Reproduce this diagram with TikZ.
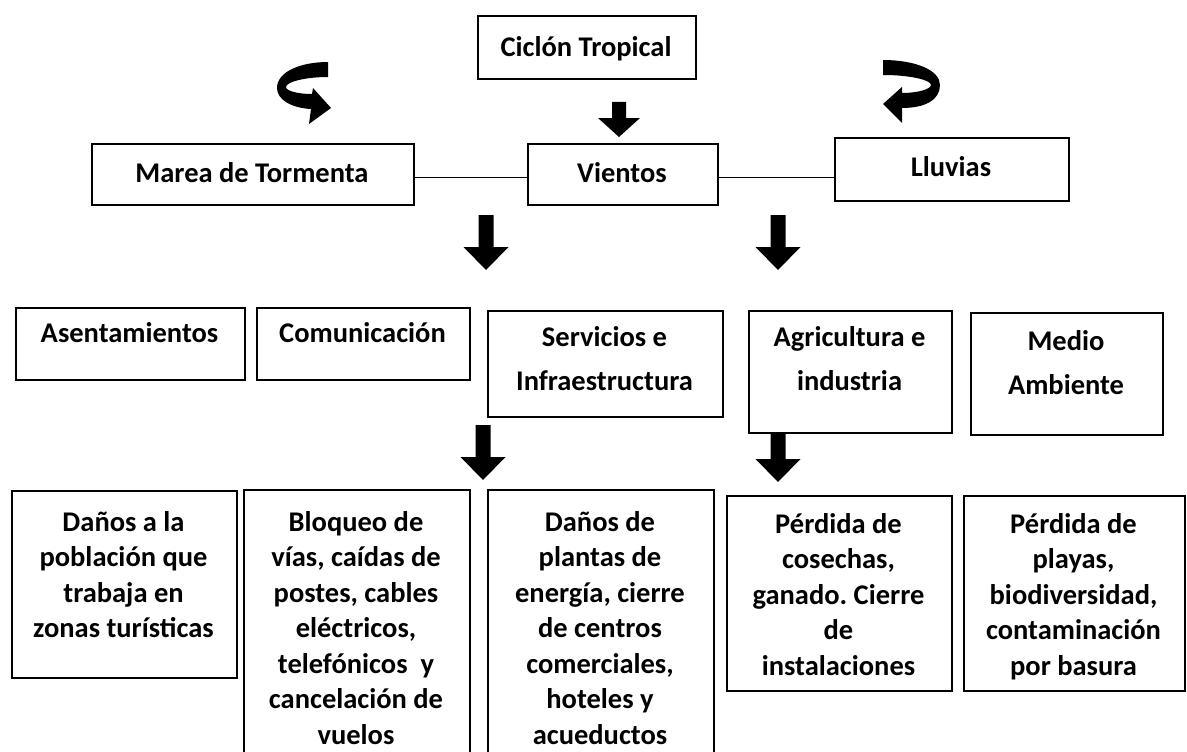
\documentclass[tikz,border=0pt]{standalone}
\usepackage{fontspec}
\setmainfont{Carlito}
\frenchspacing
\tikzset{
  box/.style={draw=black, line width=1.6pt, fill=white, inner sep=0pt, anchor=north west},
  txt/.style={font=\fontsize{28.5}{35.5}\selectfont\bfseries, align=center, inner sep=0pt, anchor=north},
  txtw/.style={font=\fontsize{28.5}{44}\selectfont\bfseries, align=center, inner sep=0pt, anchor=north},
  conn/.style={line width=1.3pt},
  blk/.style={fill=black}
}
\newcommand\blockarr[6]{% cx, top, headstart, tip, shaft half, head half
  \fill[blk] ({#1-#5},#2) -- ({#1+#5},#2) -- ({#1+#5},#3) -- ({#1+#6},#3) -- (#1,#4)
    -- ({#1-#6},#3) -- ({#1-#5},#3) -- cycle;}
\begin{document}
\begin{tikzpicture}[x=1pt,y=-1pt]
\useasboundingbox (0,0) rectangle (1187,752);
\clip (0,0) rectangle (1187,752);
\fill[white] (0,0) rectangle (1187,752);

% top row
\node[box, minimum width=218pt, minimum height=63pt] (ciclon) at (477,15) {};
\node[txt] (tciclon) at (586,31) {\strut Ciclón Tropical};

\node[box, minimum width=322pt, minimum height=61pt] (marea) at (91,143) {};
\node[txt] (tmarea) at (252,157) {\strut Marea de Tormenta};
\node[box, minimum width=190pt, minimum height=61pt] (vientos) at (527,143) {};
\node[txt] (tvientos) at (622,157) {\strut Vientos};
\node[box, minimum width=234pt, minimum height=63pt] (lluvias) at (834,137) {};
\node[txt] (tlluvias) at (951,151) {\strut Lluvias};

\coordinate (ly) at (0,177.5);
\draw[conn] (marea.east |- ly) -- (vientos.west |- ly);
\draw[conn] (vientos.east |- ly) -- (lluvias.west |- ly);

% curved arrows
\fill[blk] (328,62) .. controls (300,62) and (277,72) .. (277,88)
  .. controls (277,100) and (292,108) .. (311,109) -- (309,124) -- (331,108) -- (313,88) -- (312,94)
  .. controls (298,94) and (286,91) .. (286,87)
  .. controls (286,82) and (305,77) .. (328,77) -- cycle;
\fill[blk] (883,60) .. controls (915,60) and (940,70) .. (940,85)
  .. controls (940,100) and (925,108) .. (902,108) -- (902,123) -- (883,104) -- (902,87) -- (902,93)
  .. controls (918,93) and (931,89) .. (931,85)
  .. controls (931,80) and (910,75) .. (883,75) -- cycle;

% block arrows
\blockarr{619}{102}{118}{137}{7}{21}
\blockarr{486}{215}{247}{270}{7.5}{22.5}
\blockarr{778}{215}{247}{270}{7.5}{22.5}
\blockarr{483}{425}{457}{480}{7.5}{22.5}
\blockarr{778}{427}{459}{482}{7.5}{22.5}

% middle row
\node[box, minimum width=229pt, minimum height=72pt] (asent) at (15,307) {};
\node[txt] (tasent) at (129.5,317) {\strut Asentamientos};
\node[box, minimum width=213pt, minimum height=72pt] (comun) at (256,307) {};
\node[txt] (tcomun) at (362.5,317) {\strut Comunicación};
\node[box, minimum width=235pt, minimum height=106pt] (serv) at (487,310) {};
\node[txtw] (tserv) at (604.5,315) {\strut Servicios e\\Infraestructura};
\node[box, minimum width=203pt, minimum height=122pt] (agri) at (748,310) {};
\node[txtw] (tagri) at (849.5,315) {\strut Agricultura e\\industria};
\node[box, minimum width=192pt, minimum height=122pt] (medio) at (970,312) {};
\node[txtw] (tmedio) at (1066,319) {\strut Medio\\Ambiente};

% bottom row
\node[box, minimum width=225pt, minimum height=187pt] (b1) at (11,490) {};
\node[txt] (tb1) at (123.5,506) {\strut Daños a la\\población que\\trabaja en\\zonas turísticas};
\node[box, minimum width=226pt, minimum height=280pt] (b2) at (243,489) {};
\node[txt] (tb2) at (356,506) {\strut Bloqueo de\\vías, caídas de\\postes, cables\\eléctricos,\\telefónicos\ \ y\\cancelación de\\vuelos};
\node[box, minimum width=226pt, minimum height=280pt] (b3) at (487,489) {};
\node[txt] (tb3) at (600,506) {\strut Daños de\\plantas de\\energía, cierre\\de centros\\comerciales,\\hoteles y\\acueductos};
\node[box, minimum width=225pt, minimum height=195pt] (b4) at (726,495) {};
\node[txt] (tb4) at (838.5,508) {\strut Pérdida de\\cosechas,\\ganado. Cierre\\de\\instalaciones};
\node[box, minimum width=221pt, minimum height=195pt] (b5) at (963,495) {};
\node[txt] (tb5) at (1073.5,508) {\strut Pérdida de\\playas,\\biodiversidad,\\contaminación\\por basura};
\end{tikzpicture}
\end{document}
